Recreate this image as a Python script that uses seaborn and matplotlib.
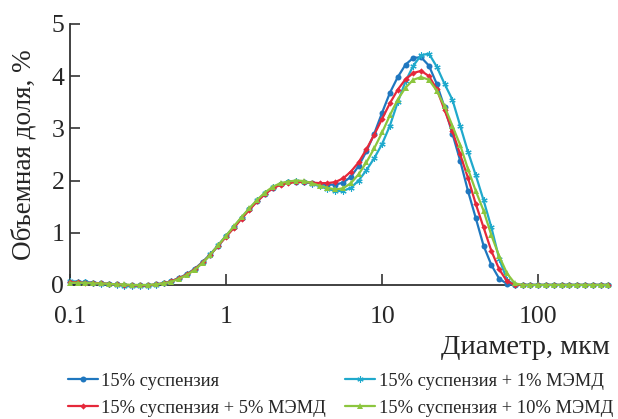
import matplotlib
matplotlib.use("Agg")
import matplotlib.pyplot as plt
import seaborn as sns

# --- datos (20 puntos por década, 0.1 ... 282 мкм) ---
diametro = [
    0.1000, 0.1122, 0.1259, 0.1413, 0.1585, 0.1778, 0.1995, 0.2239, 0.2512, 0.2818,
    0.3162, 0.3548, 0.3981, 0.4467, 0.5012, 0.5623, 0.6310, 0.7079, 0.7943, 0.8913,
    1.000, 1.122, 1.259, 1.413, 1.585, 1.778, 1.995, 2.239, 2.512, 2.818,
    3.162, 3.548, 3.981, 4.467, 5.012, 5.623, 6.310, 7.079, 7.943, 8.913,
    10.00, 11.22, 12.59, 14.13, 15.85, 17.78, 19.95, 22.39, 25.12, 28.18,
    31.62, 35.48, 39.81, 44.67, 50.12, 56.23, 63.10, 70.79, 79.43, 89.13,
    100.0, 112.2, 125.9, 141.3, 158.5, 177.8, 199.5, 223.9, 251.2, 281.8,
]

susp_15 = [
    0.06, 0.06, 0.05, 0.04, 0.03, 0.02, 0.01, 0.00, -0.01, -0.01,
    -0.01, 0.01, 0.03, 0.07, 0.13, 0.20, 0.30, 0.43, 0.58, 0.75,
    0.93, 1.10, 1.28, 1.45, 1.61, 1.75, 1.86, 1.93, 1.97, 1.98,
    1.97, 1.95, 1.93, 1.92, 1.92, 1.96, 2.07, 2.28, 2.56, 2.90,
    3.30, 3.68, 3.98, 4.22, 4.35, 4.36, 4.20, 3.85, 3.40, 2.90,
    2.38, 1.80, 1.28, 0.75, 0.38, 0.12, 0.02, 0.00, 0.00, 0.00,
    0.00, 0.00, 0.00, 0.00, 0.00, 0.00, 0.00, 0.00, 0.00, 0.00,
]

susp_1 = [
    0.07, 0.06, 0.05, 0.04, 0.02, 0.01, 0.00, -0.02, -0.03, -0.03,
    -0.02, 0.00, 0.03, 0.07, 0.13, 0.21, 0.31, 0.44, 0.59, 0.76,
    0.94, 1.11, 1.29, 1.46, 1.62, 1.76, 1.87, 1.94, 1.97, 1.99,
    1.98, 1.94, 1.89, 1.84, 1.80, 1.80, 1.86, 2.00, 2.20, 2.43,
    2.70, 3.05, 3.50, 3.90, 4.20, 4.40, 4.43, 4.18, 3.85, 3.55,
    3.05, 2.55, 2.10, 1.62, 1.10, 0.50, 0.10, 0.00, 0.00, 0.00,
    0.00, 0.00, 0.00, 0.00, 0.00, 0.00, 0.00, 0.00, 0.00, 0.00,
]

susp_5 = [
    0.05, 0.05, 0.04, 0.04, 0.03, 0.02, 0.01, 0.00, -0.01, -0.01,
    -0.01, 0.01, 0.03, 0.07, 0.13, 0.20, 0.30, 0.43, 0.58, 0.75,
    0.92, 1.09, 1.27, 1.44, 1.60, 1.74, 1.85, 1.92, 1.95, 1.97,
    1.97, 1.96, 1.95, 1.95, 1.97, 2.04, 2.17, 2.35, 2.60, 2.88,
    3.18, 3.48, 3.74, 3.94, 4.06, 4.10, 4.00, 3.75, 3.35, 2.95,
    2.50, 2.05, 1.55, 1.10, 0.65, 0.30, 0.07, 0.00, 0.00, 0.00,
    0.00, 0.00, 0.00, 0.00, 0.00, 0.00, 0.00, 0.00, 0.00, 0.00,
]

susp_10 = [
    0.04, 0.04, 0.04, 0.03, 0.03, 0.02, 0.01, 0.01, 0.00, 0.00,
    0.00, 0.01, 0.03, 0.06, 0.12, 0.19, 0.29, 0.42, 0.58, 0.76,
    0.94, 1.12, 1.30, 1.47, 1.63, 1.77, 1.88, 1.95, 1.98, 2.00,
    1.99, 1.95, 1.90, 1.86, 1.83, 1.85, 1.95, 2.12, 2.35, 2.62,
    2.92, 3.25, 3.55, 3.78, 3.93, 3.98, 3.93, 3.72, 3.42, 3.05,
    2.68, 2.22, 1.80, 1.42, 0.95, 0.55, 0.22, 0.03, 0.00, 0.00,
    0.00, 0.00, 0.00, 0.00, 0.00, 0.00, 0.00, 0.00, 0.00, 0.00,
]

# --- estilo ---
sns.set_style("ticks")
plt.rcParams['font.family'] = ['Liberation Serif', 'DejaVu Serif']

fig = plt.figure(figsize=(6.18, 4.19), dpi=100)
ax = fig.add_axes([0.113, 0.320, 0.874, 0.623])

# orden de dibujo como en el original
series = [
    (susp_15, "15% суспензия", "#1f77bf", "o", 4.3, 0),
    (susp_1, "15% суспензия + 1% МЭМД", "#1fa9cc", (6, 2, 0), 4.5, 0.8),
    (susp_5, "15% суспензия + 5% МЭМД", "#e5283a", "D", 3.2, 0),
    (susp_10, "15% суспензия + 10% МЭМД", "#8cc63e", "^", 5, 0),
]
for vals, lab, col, mk, ms, mew in series:
    sns.lineplot(x=diametro, y=vals, ax=ax, color=col, marker=mk, markersize=ms,
                 markeredgewidth=mew, markeredgecolor=col, linewidth=1.6,
                 label=lab, clip_on=False, zorder=3)

ax.set_xscale("log")
ax.set_xlim(0.1, 288)
ax.set_ylim(0, 5)
ax.set_xticks([0.1, 1, 10, 100])
ax.set_xticklabels(["0.1", "1", "10", "100"])
ax.xaxis.set_minor_locator(matplotlib.ticker.NullLocator())
ax.set_yticks([0, 1, 2, 3, 4, 5])
ax.tick_params(axis='x', direction='in', length=8, width=1.2, labelsize=18.5, pad=15, color='#333333')
ax.tick_params(axis='y', direction='in', length=7, width=1.2, labelsize=18.5, pad=4, color='#333333')
sns.despine(ax=ax)
for s in ['left', 'bottom']:
    ax.spines[s].set_linewidth(1.3)
    ax.spines[s].set_color('#333333')

ax.set_ylabel("Объемная доля, %", fontsize=19.5, labelpad=11)
ax.set_xlabel("Диаметр, мкм", fontsize=20.5, loc='right', labelpad=5)

# leyenda: dos columnas, debajo del gráfico
h, l = ax.get_legend_handles_labels()
ax.get_legend().remove()
orden = [0, 2, 1, 3]
fig.legend([h[i] for i in orden], [l[i] for i in orden], ncol=2, loc='upper left',
           bbox_to_anchor=(0.098, 0.128), frameon=False, fontsize=13.3,
           handlelength=1.6, handletextpad=0.2, columnspacing=1.05,
           labelspacing=0.55, borderaxespad=0)

fig.savefig("out.png", dpi=100)
